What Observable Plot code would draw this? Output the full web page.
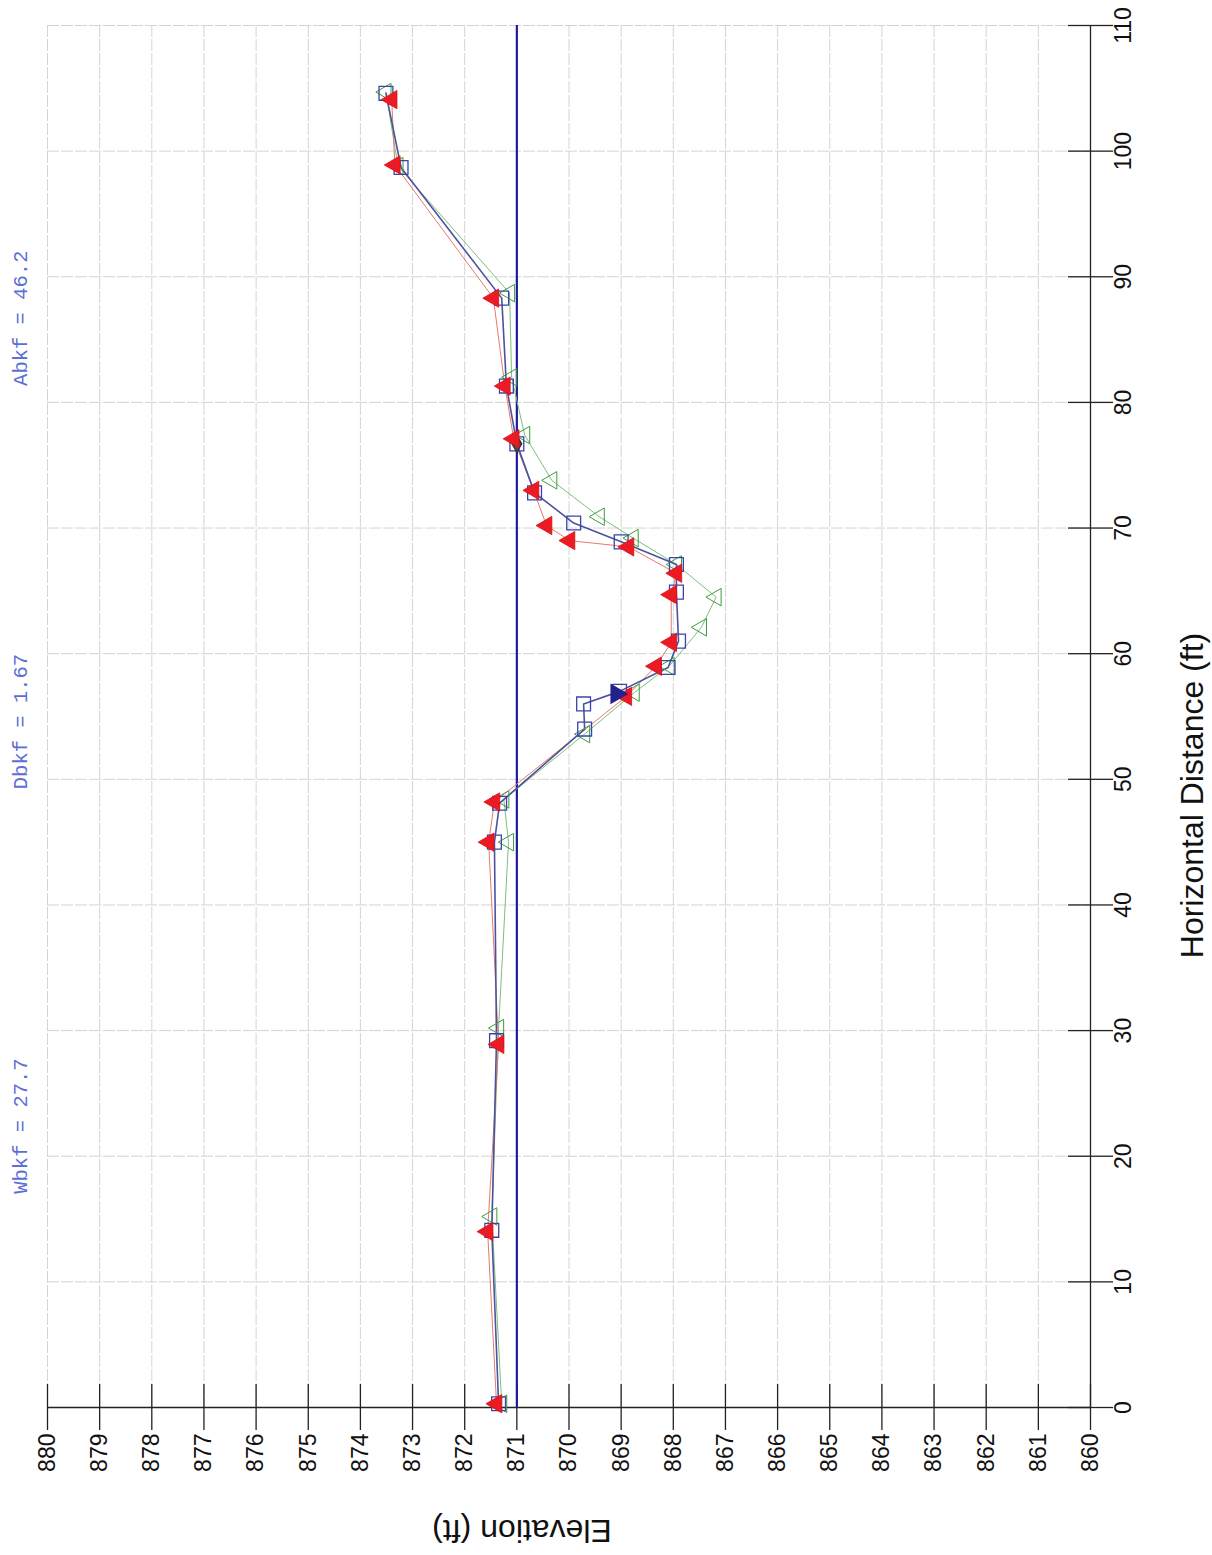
<!DOCTYPE html>
<html>
<head>
<meta charset="utf-8">
<script src="https://cdn.jsdelivr.net/npm/d3@7"></script>
<script src="https://cdn.jsdelivr.net/npm/@observablehq/plot@0.6"></script>
<style>
  html, body { margin: 0; padding: 0; background: #fff; }
  #chart { width: 1212px; height: 1555px; }
</style>
</head>
<body>
<div id="chart"></div>
<script>
// ---- Tick values ----
const elevTicks = [880, 879, 878, 877, 876, 875, 874, 873, 872, 871, 870, 869, 868, 867, 866, 865, 864, 863, 862, 861, 860];
const distTicks = [0, 10, 20, 30, 40, 50, 60, 70, 80, 90, 100, 110];

// ---- Bankfull elevation ----
const bankfullElev = [871];

// ---- Series 1: open blue squares ----
const distSquares = [0.3, 14.1, 29.2, 45.0, 48.1, 54.0, 56.0, 57.0, 58.9, 61.0, 64.9, 67.1, 68.9, 70.4, 72.8, 76.7, 81.3, 88.3, 98.7, 104.6];
const elevSquares = [871.35, 871.48, 871.39, 871.43, 871.33, 869.70, 869.72, 869.03, 868.10, 867.90, 867.94, 867.94, 869.00, 869.91, 870.66, 871.00, 871.20, 871.29, 873.22, 873.51];

// ---- Series 2: filled red triangles ----
const distRed = [0.3, 14.0, 28.9, 45.0, 48.2, 56.6, 59.0, 60.9, 64.7, 66.4, 68.5, 69.0, 70.2, 73.0, 77.1, 81.3, 88.3, 98.9, 104.1];
const elevRed = [871.39, 871.56, 871.35, 871.54, 871.43, 868.90, 868.33, 868.04, 868.04, 867.94, 868.86, 869.99, 870.43, 870.68, 871.06, 871.23, 871.45, 873.34, 873.40];

// ---- Series 3: open green triangles ----
const distGreen = [0.3, 15.2, 30.2, 45.0, 48.4, 53.6, 56.9, 59.0, 62.1, 64.5, 67.1, 69.2, 70.9, 73.8, 77.4, 82.0, 88.7, 98.8, 104.7];
const elevGreen = [871.29, 871.48, 871.35, 871.16, 871.25, 869.70, 868.75, 868.08, 867.46, 867.18, 867.94, 868.77, 869.42, 870.33, 870.85, 871.10, 871.14, 873.28, 873.51];

// ---- Single markers ----
const thalwegDist = [56.8];
const thalwegElev = [869.09];
const pinDist = [76.7];
const pinElev = [871.0];

// ---- Annotations ----
const annotLabels = ["Wbkf = 27.7", "Dbkf = 1.67", "Abkf = 46.2"];
const annotDist = [22.4, 54.6, 86.7];

const zip = (ds, es) => ds.map((d, i) => ({d, e: es[i]}));
const squares = zip(distSquares, elevSquares);
const red = zip(distRed, elevRed);
const green = zip(distGreen, elevGreen);
const thalweg = zip(thalwegDist, thalwegElev);
const pin = zip(pinDist, pinElev);
const annots = annotLabels.map((t, i) => ({t, d: annotDist[i]}));

const chart = Plot.plot({
  width: 1212,
  height: 1555,
  marginTop: 25,
  marginBottom: 148,
  marginLeft: 47,
  marginRight: 122,
  style: {fontFamily: "'Liberation Sans', Arial, sans-serif", fontSize: "23px", background: "#fff", color: "#111"},
  x: {domain: [880, 860], label: null},
  y: {domain: [0, 110], label: null},
  marks: [
    Plot.gridX(elevTicks, {stroke: "#d4d4d4", strokeOpacity: 1, strokeWidth: 1, strokeDasharray: "12,2"}),
    Plot.gridY(distTicks, {stroke: "#d4d4d4", strokeOpacity: 1, strokeWidth: 1, strokeDasharray: "12,2"}),
    Plot.ruleY([0], {stroke: "#222", strokeWidth: 1.3}),
    Plot.ruleX([860], {stroke: "#222", strokeWidth: 1.3}),
    Plot.axisX(elevTicks, {anchor: "bottom", tickSize: 23, tickPadding: 3, tickRotate: -90, textAnchor: "end", lineAnchor: "middle", tickFormat: d => String(d), label: null, fontSize: 23, stroke: "#222", strokeWidth: 1.3}),
    Plot.axisX(elevTicks, {anchor: "bottom", tickSize: -23, tickFormat: () => "", label: null, stroke: "#222", strokeWidth: 1.3}),
    Plot.axisY(distTicks, {anchor: "right", tickSize: 22, tickPadding: 2, tickRotate: -90, textAnchor: "middle", lineAnchor: "top", tickFormat: d => String(d), label: null, fontSize: 23, stroke: "#222", strokeWidth: 1.3}),
    Plot.axisY(distTicks, {anchor: "right", tickSize: -23, tickFormat: () => "", label: null, stroke: "#222", strokeWidth: 1.3}),

    Plot.ruleX(bankfullElev, {stroke: "#1c1c9c", strokeWidth: 2.2}),

    Plot.line(green, {x: "e", y: "d", stroke: "#7cc07c", strokeWidth: 1}),
    Plot.line(red, {x: "e", y: "d", stroke: "#e67a6a", strokeWidth: 1}),
    Plot.line(squares, {x: "e", y: "d", stroke: "#4c529e", strokeWidth: 1.6}),

    Plot.dot(green, {x: "e", y: "d", symbol: "triangle", rotate: -90, r: 6.5, fill: "none", stroke: "#3c9c3c", strokeWidth: 1}),
    Plot.dot(squares, {x: "e", y: "d", symbol: "square", r: 7.8, fill: "none", stroke: "#3a44a6", strokeWidth: 1.3}),
    Plot.dot(pin, {x: "e", y: "d", symbol: "diamond", r: 5, fill: "#555", stroke: "#333"}),
    Plot.dot(red, {x: "e", y: "d", symbol: "triangle", rotate: -90, r: 6.8, fill: "#ec1a22", stroke: "#d81018", strokeWidth: 0.8}),
    Plot.dot(thalweg, {x: "e", y: "d", symbol: "triangle", rotate: 90, r: 6.8, fill: "#22238a", stroke: "#22238a"}),

    Plot.text(annots, {y: "d", text: "t", frameAnchor: "left", dx: -27, rotate: -90, textAnchor: "middle", lineAnchor: "middle", fill: "#5b6fd6", fontFamily: "'Liberation Mono', 'DejaVu Sans Mono', monospace", fontSize: 20.5}),
    Plot.text(["Horizontal Distance (ft)"], {text: d => d, frameAnchor: "right", dx: 102, dy: 79, rotate: -90, textAnchor: "middle", lineAnchor: "middle", fontSize: 32, fill: "#111"}),
    Plot.text(["Elevation (ft)"], {text: d => d, frameAnchor: "bottom", dx: -47, dy: 123, rotate: 180, textAnchor: "middle", lineAnchor: "middle", fontSize: 32, fill: "#111"})
  ]
});
document.getElementById("chart").appendChild(chart);
</script>
</body>
</html>
